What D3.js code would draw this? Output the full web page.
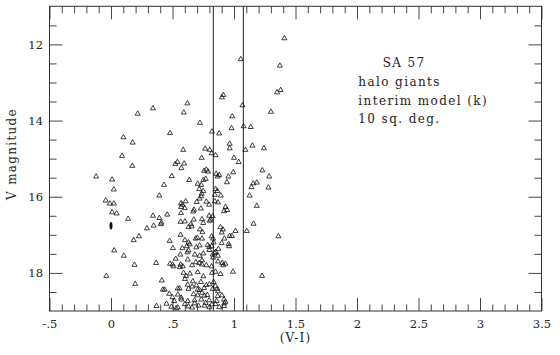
<!DOCTYPE html>
<html lang="en">
<head>
<meta charset="utf-8">
<title>SA 57 halo giants</title>
<script src="https://d3js.org/d3.v7.min.js"></script>
<style>
  body { margin: 0; background: #fff; }
  text { font-family: "DejaVu Serif", serif; fill: #222; }
</style>
</head>
<body>
<script>
// [V-I, V] for each star
const giants = [
  [1.41,11.84],[1.055,12.39],[1.373,12.56],[1.379,13.20],[1.35,13.26],[0.902,13.39],[0.913,13.33],
  [0.621,13.55],[1.069,13.6],[0.341,13.68],[0.592,13.79],[0.217,13.82],[1.30,13.77],[0.986,13.89],
  [0.723,14.06],[0.98,14.2],[1.078,14.15],[1.136,14.17],[0.821,14.29],[0.879,14.34],[0.48,14.33],
  [0.101,14.44],[0.176,14.58],[0.965,14.61],[1.15,14.66],[0.965,14.73],[0.587,14.77],[0.766,14.74],
  [0.803,14.77],[1.243,14.73],[1.092,14.77],[0.818,14.86],[0.85,14.91],[0.09,14.93],[1.0,14.98],
  [0.737,14.98],[1.038,15.09],[0.523,15.14],[0.54,15.09],[0.595,15.13],[0.572,15.25],[0.173,15.19],
  [-0.121,15.47],[0.009,15.55],[0.494,15.46],[0.636,15.56],[0.757,15.32],[0.775,15.29],[0.789,15.34],
  [0.855,15.4],[0.867,15.47],[0.994,15.36],[0.942,15.62],[0.954,15.47],[1.231,15.31],[1.286,15.47],
  [1.156,15.65],[1.185,15.63],[1.142,15.75],[1.28,15.76],[0.431,15.69],[0.023,15.81],[0.705,15.66],
  [0.734,15.69],[0.751,15.56],[0.717,15.8],[0.393,15.97],[0.737,15.92],[0.734,15.99],[0.85,15.8],
  [0.844,15.95],[0.893,15.97],[1.127,15.97],[-0.043,16.1],[-0.009,16.18],[0.023,16.18],[0.569,16.17],
  [0.607,16.12],[0.697,16.14],[0.775,16.13],[0.844,16.12],[0.569,16.27],[1.185,16.24],[0.931,16.27],
  [0.009,16.41],[0.046,16.44],[0.341,16.5],[0.393,16.56],[0.457,16.47],[0.139,16.58],[0.569,16.43],
  [0.668,16.39],[0.731,16.31],[0.798,16.21],[0.798,16.5],[0.919,16.38],[0.566,16.66],[0.601,16.65],
  [0.673,16.6],[0.74,16.59],[0.803,16.63],[0.347,16.76],[0.405,16.72],[0.292,16.83],[0.656,16.78],
  [0.723,16.86],[0.743,16.93],[0.89,16.8],[0.91,16.86],[1.012,16.9],[1.104,16.9],[1.159,16.71],
  [0.827,16.51],[1.361,17.04],[0.185,17.14],[0.228,17.04],[0.477,17.16],[0.566,17.0],[0.601,17.14],
  [0.688,17.1],[0.702,17.08],[0.818,17.04],[0.922,17.1],[0.965,17.03],[0.983,17.03],[0.957,17.24],
  [0.026,17.41],[0.503,17.35],[0.616,17.3],[0.694,17.33],[0.786,17.27],[0.798,17.32],[0.818,17.3],
  [0.873,17.37],[0.63,17.41],[0.104,17.55],[0.564,17.52],[0.682,17.52],[0.751,17.49],[0.827,17.52],
  [0.844,17.48],[0.526,17.63],[0.624,17.65],[0.367,17.74],[0.48,17.76],[0.509,17.83],[0.566,17.78],
  [0.584,17.83],[0.659,17.8],[0.717,17.74],[0.775,17.8],[0.818,17.83],[0.905,17.74],[0.913,17.8],
  [0.191,17.79],[0.59,18.0],[0.642,18.02],[0.705,17.98],[0.751,18.09],[0.821,18.0],[0.991,17.97],
  [-0.038,18.08],[1.228,18.08],[0.413,18.2],[0.601,18.16],[0.665,18.22],[0.731,18.24],[0.835,18.24],
  [0.197,18.29],[0.624,18.31],[0.694,18.33],[0.775,18.32],[0.422,18.44],[0.436,18.44],[0.543,18.41],
  [0.558,18.41],[0.63,18.42],[0.705,18.44],[0.757,18.4],[0.827,18.42],[0.864,18.42],[0.474,18.55],
  [0.543,18.57],[0.671,18.56],[0.705,18.59],[0.783,18.58],[0.867,18.61],[0.902,18.59],[0.514,18.74],
  [0.451,18.81],[0.572,18.7],[0.624,18.74],[0.679,18.72],[0.734,18.7],[0.769,18.79],[0.798,18.72],
  [0.858,18.74],[0.919,18.7],[0.922,18.8],[0.37,18.87],[0.491,18.89],[0.543,18.91],[0.601,18.82],
  [0.659,18.91],[0.711,18.86],[0.821,18.83],[0.919,18.87],
  [0.88,15.43],[0.77,15.53],[0.6,16.3],[0.58,16.21],[0.72,16.05],[0.75,15.85],[0.87,16.15],
  [0.865,15.85],[0.944,16.35],[0.675,16.34],[0.41,16.68],[0.65,16.72],[0.63,16.8],[0.75,16.69],
  [0.81,16.6],[0.83,17.1],[0.835,17.2],[0.9,16.94],[0.63,17.2],[0.64,17.25],[0.74,17.1],
  [0.72,17.28],[0.58,17.35],[0.9,17.22],[0.96,17.3],[0.62,17.46],[0.8,17.4],[0.85,17.45],
  [0.87,17.55],[0.83,17.6],[0.72,17.55],[0.74,17.67],[0.5,17.78],[0.56,17.85],[0.69,17.72],
  [0.74,17.78],[0.87,17.7],[0.93,17.76],[0.61,18.08],[0.85,17.97],[0.89,18.03],[0.66,18.36],
  [0.72,18.45],[0.74,18.52],[0.8,18.3],[0.85,18.35],[0.87,18.48],[0.93,18.76],[0.5,18.64],
  [0.53,18.93],[0.63,18.88],[0.68,18.8],[0.76,18.86],[0.8,18.9],[0.85,18.82],[0.88,18.9],
  [0.57,18.65],[0.76,18.6]
];
// pile of overlapping points at V-I = 0
const blob = [[0, 16.76]];
// the two colour cuts
const cuts = [0.832, 1.076];

const xMajor = [-0.5, 0, 0.5, 1, 1.5, 2, 2.5, 3, 3.5];
const xLabels = ["-.5", "0", ".5", "1", "1.5", "2", "2.5", "3", "3.5"];
const xMinor = d3.range(-5, 36).map(d => d / 10).filter(d => Math.round(d * 10) % 5 !== 0);
const yMajor = [12, 14, 16, 18];
const yMinor = [11.5, 12.5, 13, 13.5, 14.5, 15, 15.5, 16.5, 17, 17.5, 18.5];
const notes = ["SA 57", "halo giants", "interim model (k)", "10 sq. deg."];

const W = 560, H = 355;
const m = { left: 49.5, top: 6.3, right: 18.5, bottom: 44 };
const w = W - m.left - m.right, h = H - m.top - m.bottom;

const svg = d3.select('body').append('svg')
  .attr('width', W).attr('height', H);
const g = svg.append('g').attr('transform', `translate(${m.left},${m.top})`);

const x = d3.scaleLinear().domain([-0.5, 3.5]).range([0, w]);
const y = d3.scaleLinear().domain([11, 19]).range([0, h]);

function tidy(sel) {
  sel.select('.domain').remove();
  sel.selectAll('line').attr('stroke', '#333').attr('stroke-width', 0.9);
  sel.selectAll('text').attr('font-family', '"DejaVu Serif", serif').attr('font-size', 11.5).attr('fill', '#222');
}

// bottom
g.append('g').attr('transform', `translate(0,${h})`)
  .call(d3.axisBottom(x).tickValues(xMajor).tickSizeInner(-13).tickSizeOuter(0).tickPadding(9)
    .tickFormat((d, i) => xLabels[i]))
  .call(tidy);
g.append('g').attr('transform', `translate(0,${h})`)
  .call(d3.axisBottom(x).tickValues(xMinor).tickSizeInner(-6.5).tickSizeOuter(0).tickFormat(''))
  .call(tidy);
// top
g.append('g')
  .call(d3.axisTop(x).tickValues(xMajor).tickSizeInner(-13).tickSizeOuter(0).tickFormat(''))
  .call(tidy);
g.append('g')
  .call(d3.axisTop(x).tickValues(xMinor).tickSizeInner(-7).tickSizeOuter(0).tickFormat(''))
  .call(tidy);
// left
g.append('g')
  .call(d3.axisLeft(y).tickValues(yMajor).tickSizeInner(-13).tickSizeOuter(0).tickPadding(6.5))
  .call(tidy);
g.append('g')
  .call(d3.axisLeft(y).tickValues(yMinor).tickSizeInner(-7).tickSizeOuter(0).tickFormat(''))
  .call(tidy);
// right
g.append('g').attr('transform', `translate(${w},0)`)
  .call(d3.axisRight(y).tickValues(yMajor).tickSizeInner(-13).tickSizeOuter(0).tickFormat(''))
  .call(tidy);
g.append('g').attr('transform', `translate(${w},0)`)
  .call(d3.axisRight(y).tickValues(yMinor).tickSizeInner(-7).tickSizeOuter(0).tickFormat(''))
  .call(tidy);

g.append('rect').attr('width', w).attr('height', h)
  .attr('fill', 'none').attr('stroke', '#333').attr('stroke-width', 1);

g.selectAll('.cut').data(cuts).enter().append('line')
  .attr('class', 'cut')
  .attr('x1', d => x(d)).attr('x2', d => x(d))
  .attr('y1', 0).attr('y2', h)
  .attr('stroke', '#333').attr('stroke-width', 1.1);

const tri = d3.symbol().type(d3.symbolTriangle).size(11);
g.selectAll('.star').data(giants).enter().append('path')
  .attr('class', 'star')
  .attr('transform', d => `translate(${x(d[0])},${y(d[1])})`)
  .attr('d', tri)
  .attr('fill', 'none').attr('stroke', '#111').attr('stroke-width', 0.8);

g.selectAll('.blob').data(blob).enter().append('ellipse')
  .attr('cx', d => x(d[0])).attr('cy', d => y(d[1]))
  .attr('rx', 1.5).attr('ry', 3.8).attr('fill', '#111');

// axis titles
svg.append('text')
  .attr('x', m.left + x(1.5)).attr('y', 342)
  .attr('text-anchor', 'middle').attr('font-size', 12).attr('letter-spacing', 1.2)
  .text('(V-I)');
svg.append('text')
  .attr('transform', 'translate(16,154) rotate(-90)')
  .attr('text-anchor', 'middle').attr('font-size', 12).attr('letter-spacing', 1.3)
  .text('V magnitude');

// label block
const nx = [382.7, 358.3, 358.3, 358.3];
const ny = [66.7, 85.7, 105, 123.3];
svg.selectAll('.note').data(notes).enter().append('text')
  .attr('class', 'note')
  .attr('x', (d, i) => nx[i]).attr('y', (d, i) => ny[i])
  .attr('font-size', 12).attr('letter-spacing', 1.4)
  .text(d => d);
</script>
</body>
</html>
